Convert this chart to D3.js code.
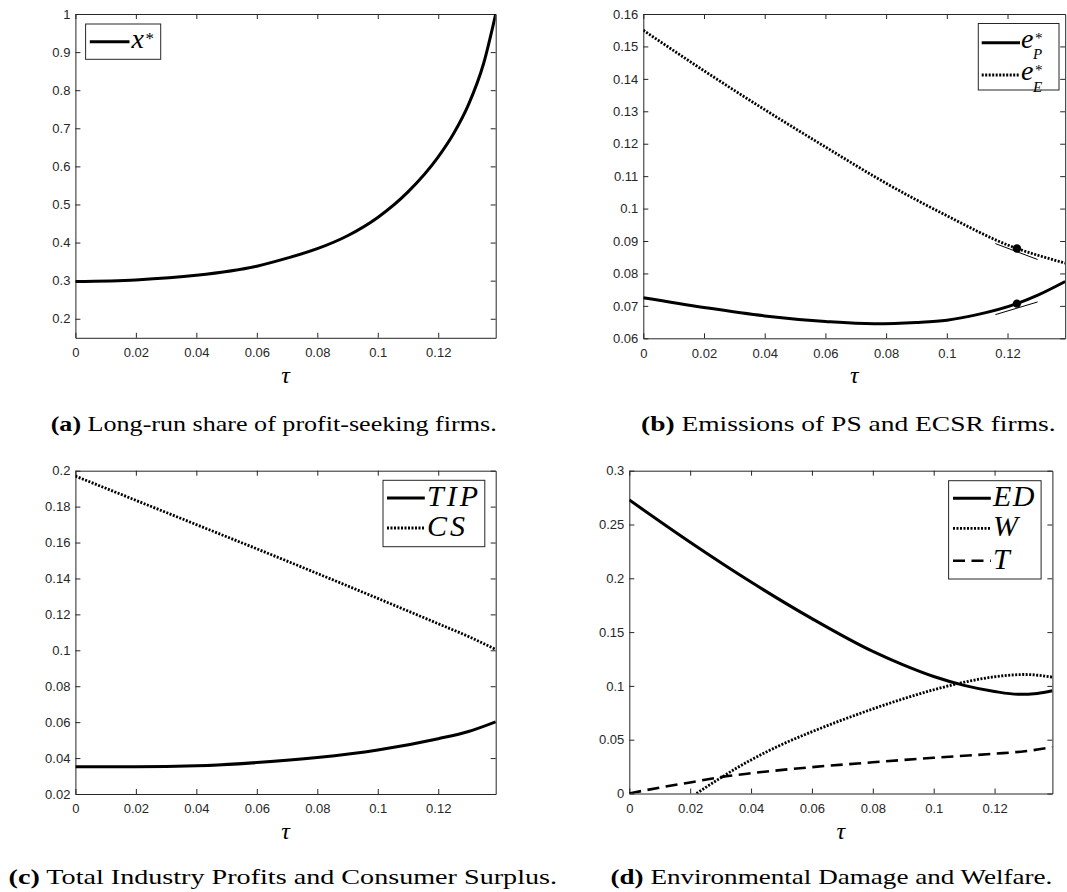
<!DOCTYPE html>
<html>
<head>
<meta charset="utf-8">
<script src="https://cdn.jsdelivr.net/npm/d3@7/dist/d3.min.js"></script>
<style>
  body { margin: 0; background: #fff; }
</style>
</head>
<body>
<div id="container"></div>
<script>
// values (tau on the x axis)
let tauA  = [0, 0.02, 0.04, 0.06, 0.07, 0.08, 0.09, 0.1, 0.11, 0.12, 0.125, 0.13, 0.135, 0.139];
let xStar = [0.298, 0.302, 0.314, 0.338, 0.359, 0.384, 0.418, 0.466, 0.533, 0.625, 0.685, 0.762, 0.87, 1.0];

let tauEE = [0, 0.02, 0.04, 0.06, 0.08, 0.1, 0.12, 0.139];
let eE    = [0.155, 0.1425, 0.1305, 0.119, 0.1078, 0.0978, 0.0888, 0.0832];
let tauEP = [0, 0.02, 0.04, 0.06, 0.076, 0.09, 0.1, 0.11, 0.1231, 0.13, 0.139];
let eP    = [0.0725, 0.0695, 0.0669, 0.0652, 0.0645, 0.0649, 0.0656, 0.0673, 0.0707, 0.0733, 0.0775];
// marked points and their tangents in panel (b)
let dotTau = [0.1231, 0.1231];
let dotVal = [0.0877, 0.0707];
let tangentTau = [[0.1160, 0.1299], [0.1160, 0.1299]];
let tangentVal = [[0.0892, 0.0843], [0.0673, 0.0712]];

let tauC = [0, 0.02, 0.04, 0.06, 0.08, 0.1, 0.12, 0.13, 0.139];
let TIP  = [0.0352, 0.0352, 0.0357, 0.0375, 0.0403, 0.0445, 0.0508, 0.0548, 0.0602];
let CS   = [0.197, 0.1835, 0.170, 0.1565, 0.1428, 0.1289, 0.1148, 0.1077, 0.1005];

let tauED = [0, 0.02, 0.04, 0.06, 0.08, 0.09, 0.1, 0.11, 0.12, 0.128, 0.134, 0.139];
let ED    = [0.2728, 0.2335, 0.1965, 0.1625, 0.132, 0.1195, 0.1087, 0.1005, 0.0948, 0.0922, 0.093, 0.0955];
let tauW  = [0.0221, 0.025, 0.03, 0.035, 0.04, 0.045, 0.05, 0.06, 0.07, 0.08, 0.09, 0.1, 0.11, 0.12, 0.13, 0.139];
let Wel   = [0, 0.0055, 0.0145, 0.0232, 0.0312, 0.0386, 0.0454, 0.0574, 0.0684, 0.0786, 0.088, 0.0964, 0.1034, 0.1085, 0.1106, 0.1082];
let tauT  = [0, 0.01, 0.02, 0.03, 0.04, 0.06, 0.08, 0.1, 0.12, 0.13, 0.139];
let Tax   = [0, 0.0055, 0.0103, 0.0152, 0.0188, 0.0245, 0.029, 0.0332, 0.037, 0.0393, 0.043];

let xTicks = [0, 0.02, 0.04, 0.06, 0.08, 0.1, 0.12];
let yTicksA = [0.2, 0.3, 0.4, 0.5, 0.6, 0.7, 0.8, 0.9, 1];
let yTicksB = [0.06, 0.07, 0.08, 0.09, 0.1, 0.11, 0.12, 0.13, 0.14, 0.15, 0.16];
let yTicksC = [0.02, 0.04, 0.06, 0.08, 0.1, 0.12, 0.14, 0.16, 0.18, 0.2];
let yTicksD = [0, 0.05, 0.1, 0.15, 0.2, 0.25, 0.3];

let captions = [
  ["(a)", " Long-run share of profit-seeking firms."],
  ["(b)", " Emissions of PS and ECSR firms."],
  ["(c)", " Total Industry Profits and Consumer Surplus."],
  ["(d)", " Environmental Damage and Welfare."]
];

let w = 1067;
let h = 892;
let axisColor = "#262626";
let serif = "'Liberation Serif', 'Times New Roman', serif";

let viz = d3.select("#container")
  .append("svg")
    .attr("width", w)
    .attr("height", h)
    .style("background-color", "#fff");

let styles = {
  solid:  { width: 3,   dash: null },
  dotted: { width: 2.8, dash: "2,1.5" },
  dashed: { width: 2.6, dash: "12,6.5" }
};

function fmt(d) { return d3.format("~g")(d); }

function drawPanel(p, idx) {
  let x = d3.scaleLinear().domain([0, 0.139]).range([p.left, p.right]);
  let y = d3.scaleLinear().domain(p.yDomain).range([p.bottom, p.top]);
  let g = viz.append("g").attr("class", "panel");

  let clipId = "clip" + idx;
  g.append("clipPath").attr("id", clipId)
    .append("rect")
      .attr("x", p.left).attr("y", p.top)
      .attr("width", p.right - p.left).attr("height", p.bottom - p.top);

  // box + inward ticks on all four sides
  let bottom = g.append("g").attr("transform", "translate(0," + p.bottom + ")")
    .call(d3.axisBottom(x).tickValues(xTicks).tickFormat(fmt).tickSizeInner(-5).tickSizeOuter(0).tickPadding(10));
  let top = g.append("g").attr("transform", "translate(0," + p.top + ")")
    .call(d3.axisTop(x).tickValues(xTicks).tickFormat("").tickSizeInner(-5).tickSizeOuter(0));
  let left = g.append("g").attr("transform", "translate(" + p.left + ",0)")
    .call(d3.axisLeft(y).tickValues(p.yTicks).tickFormat(fmt).tickSizeInner(-5).tickSizeOuter(0).tickPadding(5));
  let right = g.append("g").attr("transform", "translate(" + p.right + ",0)")
    .call(d3.axisRight(y).tickValues(p.yTicks).tickFormat("").tickSizeInner(-5).tickSizeOuter(0));

  [bottom, top, left, right].forEach(function(a) {
    a.attr("font-family", null).attr("font-size", null);
    a.selectAll("path, line").attr("stroke", axisColor).attr("stroke-width", 1);
    a.selectAll("text")
      .style("font-family", "'Liberation Sans', Arial, sans-serif")
      .style("font-size", "13px")
      .attr("fill", axisColor);
  });

  // curves
  let line = d3.line()
    .x(function(d) { return x(d[0]); })
    .y(function(d) { return y(d[1]); })
    .curve(d3.curveMonotoneX);

  p.series.forEach(function(s) {
    let pts = d3.zip(s.tau, s.val);
    g.append("path")
      .attr("d", line(pts))
      .attr("clip-path", "url(#" + clipId + ")")
      .attr("fill", "none")
      .attr("stroke", "#000")
      .attr("stroke-width", styles[s.style].width)
      .attr("stroke-dasharray", styles[s.style].dash);
  });

  if (p.extra) p.extra(g, x, y);

  // tau label
  g.append("text")
    .attr("x", (p.left + p.right) / 2)
    .attr("y", p.bottom + 45)
    .attr("text-anchor", "middle")
    .style("font-family", serif)
    .style("font-style", "italic")
    .style("font-size", "24px")
    .text("τ");

  // legend
  let lg = p.legend;
  g.append("rect")
    .attr("x", lg.x1).attr("y", lg.y1)
    .attr("width", lg.x2 - lg.x1).attr("height", lg.y2 - lg.y1)
    .attr("fill", "#fff").attr("stroke", axisColor).attr("stroke-width", 1);
  p.series.forEach(function(s, i) {
    let ly = lg.rows[i];
    g.append("line")
      .attr("x1", lg.lx1).attr("x2", lg.lx2)
      .attr("y1", ly).attr("y2", ly)
      .attr("stroke", "#000")
      .attr("stroke-width", styles[s.style].width)
      .attr("stroke-dasharray", styles[s.style].dash);
    // one text per entry; scripts as tspans
    let t = g.append("text")
      .attr("x", lg.tx)
      .attr("y", ly + lg.base)
      .style("font-family", serif)
      .style("font-size", lg.size + "px")
      .style("letter-spacing", (lg.spacing || 0) + "px");
    t.append("tspan").style("font-style", "italic").text(s.label);
    if (s.sup) {
      t.append("tspan")
        .attr("dx", 1.5).attr("dy", s.sub ? -5 : -4)
        .style("font-size", s.sub ? "15px" : "17px")
        .text(s.sup);
    }
    if (s.sub) {
      t.append("tspan")
        .attr("dx", -9.5).attr("dy", 16.5)
        .style("font-size", "15px")
        .style("font-style", "italic")
        .text(s.sub);
    }
  });

  // caption
  let cap = captions[idx];
  let ct = g.append("text")
    .attr("x", p.capX1)
    .attr("y", p.capY)
    .attr("textLength", p.capX2 - p.capX1)
    .attr("lengthAdjust", "spacingAndGlyphs")
    .style("font-family", serif)
    .style("font-size", "22px");
  ct.append("tspan").style("font-weight", "bold").text(cap[0]);
  ct.append("tspan").text(cap[1]);
}

let panels = [
  {
    left: 75.4, right: 495.7, top: 14, bottom: 337.8,
    yDomain: [0.15, 1], yTicks: yTicksA,
    series: [{ tau: tauA, val: xStar, style: "solid", label: "x", sup: "*" }],
    legend: { x1: 85.6, x2: 160.7, y1: 24, y2: 59.3, lx1: 89.8, lx2: 129.5, tx: 131.5,
              rows: [41.7], base: 6.5, size: 28 },
    capX1: 50.7, capX2: 496.7, capY: 431
  },
  {
    left: 643.3, right: 1065.2, top: 14, bottom: 338.3,
    yDomain: [0.06, 0.16], yTicks: yTicksB,
    series: [
      { tau: tauEP, val: eP, style: "solid", label: "e", sup: "*", sub: "P" },
      { tau: tauEE, val: eE, style: "dotted", label: "e", sup: "*", sub: "E" }
    ],
    legend: { x1: 978.3, x2: 1059, y1: 23.5, y2: 90, lx1: 981.7, lx2: 1020, tx: 1021,
              rows: [42.7, 75], base: 5, size: 28 },
    extra: function(g, x, y) {
      tangentTau.forEach(function(tt, i) {
        g.append("line")
          .attr("x1", x(tt[0])).attr("x2", x(tt[1]))
          .attr("y1", y(tangentVal[i][0])).attr("y2", y(tangentVal[i][1]))
          .attr("stroke", "#000").attr("stroke-width", 1);
      });
      g.selectAll(".dot").data(d3.zip(dotTau, dotVal)).enter()
        .append("circle")
          .attr("cx", function(d) { return x(d[0]); })
          .attr("cy", function(d) { return y(d[1]); })
          .attr("r", 4.2)
          .attr("fill", "#000");
    },
    capX1: 641, capX2: 1055.6, capY: 431
  },
  {
    left: 75.4, right: 495.7, top: 470.7, bottom: 794,
    yDomain: [0.02, 0.2], yTicks: yTicksC,
    series: [
      { tau: tauC, val: TIP, style: "solid", label: "TIP" },
      { tau: tauC, val: CS, style: "dotted", label: "CS" }
    ],
    legend: { x1: 383, x2: 484.8, y1: 480.3, y2: 546.7, lx1: 387, lx2: 424.8, tx: 427,
              rows: [498, 528], base: 8, size: 30, spacing: 3 },
    capX1: 8.6, capX2: 557, capY: 884
  },
  {
    left: 629.3, right: 1052.4, top: 470.7, bottom: 793.5,
    yDomain: [0, 0.3], yTicks: yTicksD,
    series: [
      { tau: tauED, val: ED, style: "solid", label: "ED" },
      { tau: tauW, val: Wel, style: "dotted", label: "W" },
      { tau: tauT, val: Tax, style: "dashed", label: "T" }
    ],
    legend: { x1: 948.6, x2: 1041.1, y1: 480.7, y2: 579, lx1: 953, lx2: 990.8, tx: 993,
              rows: [498.3, 528.3, 560.7], base: 8, size: 30, spacing: 1.5 },
    capX1: 610.5, capX2: 1052.4, capY: 884
  }
];

panels.forEach(drawPanel);
</script>
</body>
</html>
